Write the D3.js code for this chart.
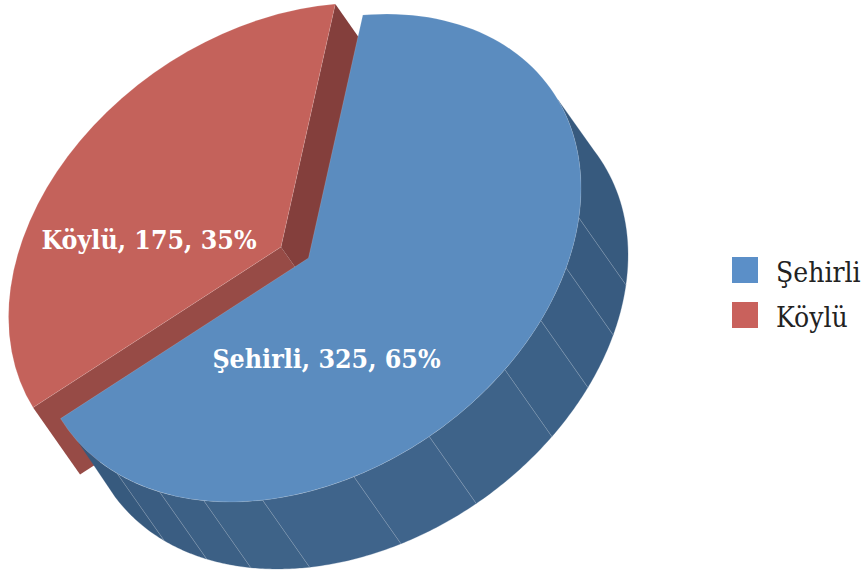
<!DOCTYPE html>
<html><head><meta charset="utf-8">
<script src="https://cdn.jsdelivr.net/npm/d3@7/dist/d3.min.js"></script>
<style>html,body{margin:0;padding:0;background:#fff}svg{display:block}text{font-family:"DejaVu Serif Condensed","DejaVu Serif",serif;font-stretch:condensed}</style>
</head><body><svg id="c" width="866" height="570"></svg>
<script>
const categories = ["Şehirli", "Köylü"];
const values = [325, 175];
const percents = [65, 35];
const topColors = ["#5b8cbf", "#c4625b"];
const legendColors = ["#5b8fc8", "#c9615c"];
// rim facet boundaries on the Şehirli wedge (degrees clockwise from 12 o'clock) and their shades
const facetStops = [66.2, 97.2, 109, 121.5, 133.9, 153.7, 170.4, 189.7, 202.6, 213.1, 224.6, 237.7];
const facetColors = ["#375a7e","#385b80","#3a5e84","#3c6187","#3e6389","#3f648b","#3f648b","#3e6388","#3c6085","#3a5d82","#375a7e"];
// where the lower rim of the silhouette meets its straight tangent chords
const lowerRimEnds = [61.2, 241.8];

const deg = Math.PI / 180;
const R = 100, M = {a: 272.5 / R, b: -70 / R, c: 233.7 / R};
const centers = [{x: 308.5, y: 258}, {x: 281, y: 247}];
const ext = {x: 47, y: 67};
const svg = d3.select("#c");
const pie = d3.pie().sort(null).startAngle(11.5 * deg).endAngle(371.5 * deg);
const arcs = pie(values);
const arc = d3.arc().innerRadius(0).outerRadius(R);
const proj = (t, o, r = 1) => [o.x + r * M.a * R * Math.sin(t), o.y + r * (M.b * R * Math.sin(t) - M.c * R * Math.cos(t))];
const line = d3.line();
const shift = p => [p[0] + ext.x, p[1] + ext.y];
const mat = o => `matrix(${M.a},${M.b},0,${M.c},${o.x},${o.y})`;
const edge = "rgba(255,255,255,0.35)";
const rim = (s, e, o) => d3.range(0, 25).map(k => proj((s + (e - s) * k / 24) * deg, o));

// Köylü: radial walls, then top face
const red = arcs[1], rc = centers[1];
[[red.startAngle, "#974b46"], [red.endAngle, "#843f3c"]].forEach(([t, col]) => {
  const a = [rc.x, rc.y], b = proj(t, rc);
  svg.append("path").attr("d", line([a, b, shift(b), shift(a)]) + "Z").attr("fill", col);
});
svg.append("path").attr("d", arc(red)).attr("transform", mat(rc)).attr("fill", topColors[1])
  .attr("stroke", edge).attr("stroke-width", 0.4).attr("vector-effect", "non-scaling-stroke");

// Şehirli: faceted rim, then top face
const bc = centers[0];
d3.pairs(facetStops).forEach(([s, e], i) => {
  const ls = i === 0 ? lowerRimEnds[0] : s;
  const le = i === facetStops.length - 2 ? lowerRimEnds[1] : e;
  const pts = rim(s, e, bc).concat(rim(ls, le, bc).reverse().map(shift));
  svg.append("path").attr("d", line(pts) + "Z").attr("fill", facetColors[i]).attr("stroke", facetColors[i]).attr("stroke-width", 0.3);
  if (i > 0) {
    const p = proj(s * deg, bc);
    svg.append("path").attr("d", line([p, shift(p)])).attr("stroke", "rgba(255,255,255,0.3)").attr("stroke-width", 0.7).attr("fill", "none");
  }
});
svg.append("path").attr("d", arc(arcs[0])).attr("transform", mat(bc)).attr("fill", topColors[0])
  .attr("stroke", edge).attr("stroke-width", 0.4).attr("vector-effect", "non-scaling-stroke");

// data labels
const labelAt = [{x: 326.5, y: 368}, {x: 149, y: 249}];
categories.forEach((c, i) => {
  svg.append("text").attr("x", labelAt[i].x).attr("y", labelAt[i].y).attr("text-anchor", "middle")
    .attr("fill", "#fff").attr("font-weight", "bold").attr("font-size", 26.5)
    .text(`${c}, ${values[i]}, ${percents[i]}%`);
});

// legend
const legendY = d3.scalePoint().domain(categories).range([257, 302]);
categories.forEach((c, i) => {
  svg.append("rect").attr("x", 732).attr("y", legendY(c)).attr("width", 26).attr("height", 26).attr("fill", legendColors[i]);
  svg.append("text").attr("x", 776).attr("y", legendY(c) + 25).attr("fill", "#222").attr("font-size", 28).text(c);
});
</script></body></html>
